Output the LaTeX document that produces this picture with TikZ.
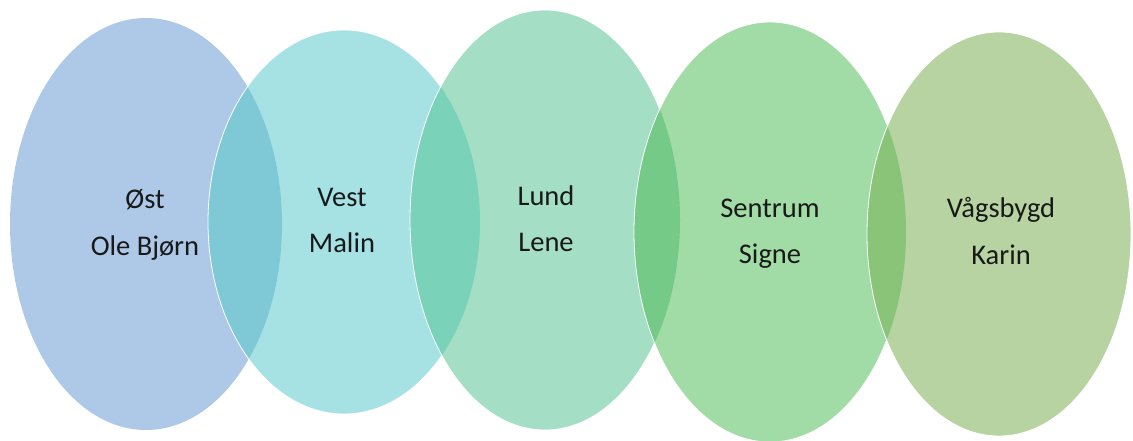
\documentclass[tikz,border=0pt]{standalone}
\usepackage{fontspec}
\setmainfont{Carlito}
\definecolor{cA}{RGB}{173,201,231}
\definecolor{cB}{RGB}{166,226,228}
\definecolor{cC}{RGB}{164,223,197}
\definecolor{cD}{RGB}{161,219,165}
\definecolor{cE}{RGB}{182,211,161}
\definecolor{lAB}{RGB}{127,201,214}
\definecolor{lBC}{RGB}{122,210,185}
\definecolor{lCD}{RGB}{117,202,135}
\definecolor{lDE}{RGB}{138,196,120}
\definecolor{txt}{RGB}{25,25,25}
\begin{document}
\begin{tikzpicture}[x=1pt,y=-1pt,
  lbl/.style={anchor=base,inner sep=0pt,text=txt,font=\fontsize{28.5}{32}\selectfont},
  rim/.style={draw=white,line width=0.8pt}]
\useasboundingbox (0,0) rectangle (1133,441);
% ellipse 1
\fill[cA] (146,224) ellipse [x radius=136pt, y radius=206pt];
% ellipse 2
\fill[cB] (344,222) ellipse [x radius=136pt, y radius=192pt];
\begin{scope}
  \clip (146,224) ellipse [x radius=136pt, y radius=206pt];
  \fill[lAB] (344,222) ellipse [x radius=136pt, y radius=192pt];
\end{scope}
\draw[rim] (344,222) ellipse [x radius=136pt, y radius=192pt];
% ellipse 3
\fill[cC] (545,220) ellipse [x radius=135pt, y radius=210pt];
\begin{scope}
  \clip (344,222) ellipse [x radius=136pt, y radius=192pt];
  \fill[lBC] (545,220) ellipse [x radius=135pt, y radius=210pt];
\end{scope}
\draw[rim] (545,220) ellipse [x radius=135pt, y radius=210pt];
% ellipse 4
\fill[cD] (770,232) ellipse [x radius=136pt, y radius=210pt];
\begin{scope}
  \clip (545,220) ellipse [x radius=135pt, y radius=210pt];
  \fill[lCD] (770,232) ellipse [x radius=136pt, y radius=210pt];
\end{scope}
\draw[rim] (770,232) ellipse [x radius=136pt, y radius=210pt];
% ellipse 5
\fill[cE] (999,234) ellipse [x radius=132pt, y radius=202pt];
\begin{scope}
  \clip (770,232) ellipse [x radius=136pt, y radius=210pt];
  \fill[lDE] (999,234) ellipse [x radius=132pt, y radius=202pt];
\end{scope}
\draw[rim] (999,234) ellipse [x radius=132pt, y radius=202pt];
% labels
\node[lbl] (t1a) at (145,208) {Øst};
\node[lbl] (t1b) at (145,255) {Ole Bjørn};
\node[lbl] (t2a) at (342,207) {Vest};
\node[lbl] (t2b) at (342,252) {Malin};
\node[lbl] (t3a) at (546,205) {Lund};
\node[lbl] (t3b) at (546,251) {Lene};
\node[lbl] (t4a) at (770,218) {Sentrum};
\node[lbl] (t4b) at (770,263) {Signe};
\node[lbl] (t5a) at (1001,218) {Vågsbygd};
\node[lbl] (t5b) at (1001,264) {Karin};
\end{tikzpicture}
\end{document}
